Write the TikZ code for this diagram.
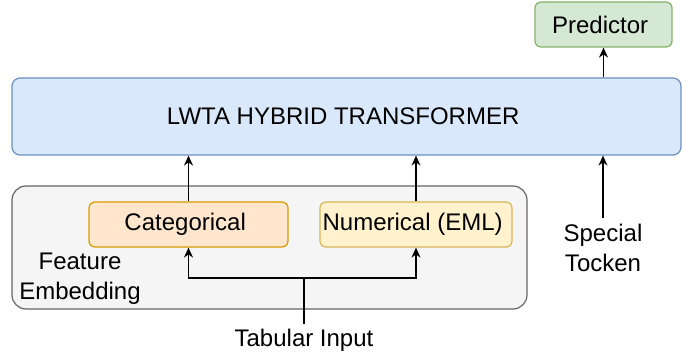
\documentclass[tikz,border=0pt]{standalone}
\usepackage{fontspec}
\setmainfont{Liberation Sans}
\usepackage{xcolor}
\usetikzlibrary{arrows.meta,positioning,calc}

\definecolor{transfill}{HTML}{DAE8FC}
\definecolor{transline}{HTML}{6C8EBF}
\definecolor{predfill}{HTML}{D5E8D4}
\definecolor{predline}{HTML}{82B366}
\definecolor{catfill}{HTML}{FFE6CC}
\definecolor{catline}{HTML}{D79B00}
\definecolor{numfill}{HTML}{FFF2CC}
\definecolor{numline}{HTML}{D6B656}
\definecolor{embfill}{HTML}{F5F5F5}
\definecolor{embline}{HTML}{666666}

\begin{document}
\begin{tikzpicture}[
        x=0.5pt, y=-0.5pt,
        >={Stealth[length=5pt,width=4.5pt]},
        every node/.style={font=\fontsize{12}{15}\selectfont},
        block/.style={
            draw,
            rounded corners=3pt,
            align=center,
            line width=0.6pt,
            inner sep=0pt
        },
        label/.style={
            align=center,
            inner sep=3pt
        },
        arrow/.style={->, line width=0.7pt}
    ]
    \useasboundingbox (0,0) rectangle (682,358);

    \node[block, fill=transfill, draw=transline, rounded corners=4pt,
          minimum width=334.5pt, minimum height=38.5pt] (trans) at (346.5,116.5) {
        LWTA HYBRID TRANSFORMER
    };

    \node[block, fill=predfill, draw=predline,
          minimum width=68.5pt, minimum height=22.5pt] (pred) at (603.5,24.5) {
        Predictor
    };

    \node[block, fill=embfill, draw=embline, rounded corners=7pt,
          minimum width=257.5pt, minimum height=61.5pt] (embed) at (269.5,247.5) {};

    \node[block, fill=catfill, draw=catline,
          minimum width=99.5pt, minimum height=22.5pt] (cat) at (188.5,224.5) {
        Categorical
    };

    \node[block, fill=numfill, draw=numline,
          minimum width=96pt, minimum height=22.5pt] (num) at (416,224.5) {
        Numerical (EML)
    };

    \node[label] (femb) at (80,279) {Feature\\Embedding};

    \node[label] (tok) at (603,248) {Special\\Tocken};

    \node[label, inner sep=2pt] (tab) at (304,340) {Tabular Input};

    \draw[arrow] (cat.north) -- (cat.north |- trans.south);
    \draw[arrow] (num.north) -- (num.north |- trans.south);
    \draw[arrow] (tok.north) -- (tok.north |- trans.south);
    \draw[arrow] (pred.south |- trans.north) -- (pred.south);

    \coordinate (split) at (304,278);
    \draw[line width=0.7pt] (tab.north) -- (split);
    \draw[arrow] (split) -| (cat.south);
    \draw[arrow] (split) -| (num.south);

\end{tikzpicture}
\end{document}
